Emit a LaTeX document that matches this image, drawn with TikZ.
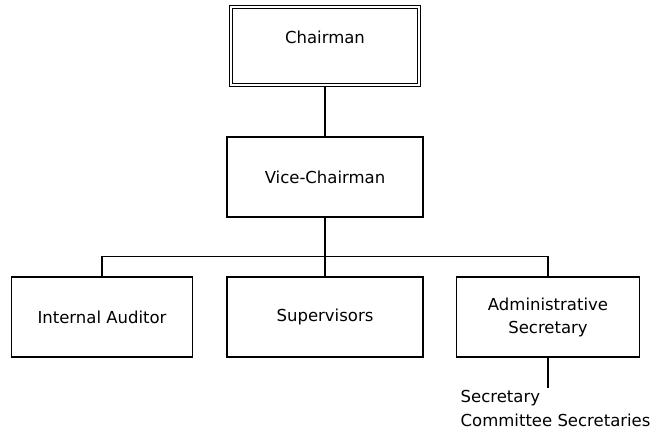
\documentclass[tikz,border=0pt]{standalone}
\usepackage{fontspec}
\setmainfont{DejaVu Sans}
\usetikzlibrary{shapes,arrows,trees,calc}

\tikzset{
  post/.style={draw, line width=1.4pt, minimum height=80pt, align=center},
  top post/.style={draw, double, double distance=1.5pt, line width=1.3pt,
    minimum width=188pt, minimum height=78pt, text depth=17pt},
  note/.style={align=left, inner sep=0pt}
}

\begin{document}
\begin{tikzpicture}[x=1pt, y=-1pt, font=\fontsize{16.5}{23}\selectfont,
  line width=1.4pt,
  level 1/.style={level distance=131pt},
  level 2/.style={level distance=140pt, sibling distance=223pt},
  edge from parent/.style={draw},
  edge from parent path={(\tikzparentnode.south) |- ($(\tikzchildnode.north)+(0,20pt)$) -- (\tikzchildnode.north)}]
\useasboundingbox (0,0) rectangle (651,435);
\node[top post] (chairman) at (325,46) {Chairman}
  child {node[post, minimum width=196pt] (vice) {Vice-Chairman}
    child {node[post, minimum width=181pt] (auditor) {Internal Auditor}}
    child {node[post, minimum width=196pt] (supervisors) {Supervisors}}
    child {node[post, minimum width=183pt] (admin) {Administrative\\Secretary}}
  }
;
% the secretaries hang below the administrative secretary
\node[note, anchor=north west] (secs) at (460,390) {Secretary\\[1pt]Committee Secretaries};
\coordinate (secs top) at ($(admin.south)+(0,30)$);
\draw (admin.south) -- (secs top);
\end{tikzpicture}
\end{document}
